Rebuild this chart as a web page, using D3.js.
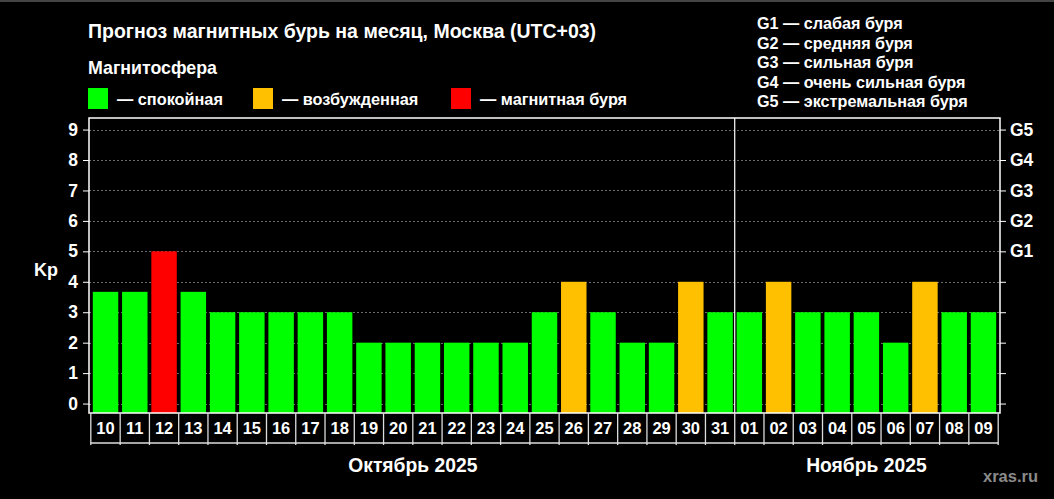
<!DOCTYPE html>
<html><head><meta charset="utf-8">
<script src="https://cdn.jsdelivr.net/npm/d3@7"></script>
<style>body{margin:0;background:#000}svg{display:block;font-family:"Liberation Sans",Arial,sans-serif;font-weight:bold}</style>
</head><body>
<script>
const days = ["10","11","12","13","14","15","16","17","18","19","20","21","22","23","24","25","26","27","28","29","30","31","01","02","03","04","05","06","07","08","09"];
const kp = [3.67,3.67,5,3.67,3,3,3,3,3,2,2,2,2,2,2,3,4,3,2,2,4,3,3,4,3,3,3,2,4,3,3];
const status = ["q","q","s","q","q","q","q","q","q","q","q","q","q","q","q","q","e","q","q","q","e","q","q","e","q","q","q","q","e","q","q"];
const yTicks = [0,1,2,3,4,5,6,7,8,9];
const gLabels = {5:"G1",6:"G2",7:"G3",8:"G4",9:"G5"};
const months = [{name:"Октябрь 2025", from:"10", to:"31"},{name:"Ноябрь 2025", from:"01", to:"09"}];
const legend = [{k:"q", label:"— спокойная"},{k:"e", label:"— возбужденная"},{k:"s", label:"— магнитная буря"}];
const gLegend = ["G1 — слабая буря","G2 — средняя буря","G3 — сильная буря","G4 — очень сильная буря","G5 — экстремальная буря"];
const colors = {q:"#00ff00", e:"#ffc000", s:"#ff0000"};

const W=1054,H=499;
const svg=d3.select("body").append("svg").attr("width",W).attr("height",H);
svg.append("rect").attr("width",W).attr("height",H).attr("fill","#000");
svg.append("rect").attr("width",W).attr("height",2).attr("fill","#444");

const L=89,R=1000,T=118,B=413;
const x=d3.scaleBand().domain(days).range([L,R]).paddingInner(0.13).paddingOuter(0.13);
const y=d3.scaleLinear().domain([-0.31,9.38]).range([B,T]);
const gap=(x.step()-x.bandwidth());

// gridlines
svg.append("g").selectAll("line").data(yTicks).join("line")
  .attr("x1",L).attr("x2",R).attr("y1",d=>Math.round(y(d))+0.5).attr("y2",d=>Math.round(y(d))+0.5)
  .attr("stroke","#6a6a6a").attr("stroke-width",1).attr("stroke-dasharray","2,2");

// bars
svg.append("g").selectAll("rect").data(days).join("rect")
  .attr("x",d=>x(d)).attr("width",x.bandwidth())
  .attr("y",(d,i)=>y(kp[i])).attr("height",(d,i)=>B-y(kp[i]))
  .attr("fill",(d,i)=>colors[status[i]]);

// month separator
const sepX = x("01") - gap/2;
svg.append("line").attr("x1",sepX).attr("x2",sepX).attr("y1",T).attr("y2",B).attr("stroke","#fff").attr("stroke-width",1.2);

// frame
svg.append("rect").attr("x",L).attr("y",T).attr("width",R-L).attr("height",B-T).attr("fill","none").attr("stroke","#fff").attr("stroke-width",1.5);

// left axis
const ly=svg.append("g").attr("transform",`translate(${L},0)`).call(d3.axisLeft(y).tickValues(yTicks).tickSize(6).tickPadding(5).tickFormat(d3.format("d")));
ly.select(".domain").remove();
ly.selectAll("line").attr("stroke","#fff");
ly.selectAll("text").attr("fill","#fff").attr("font-size",17.5).attr("font-family","Liberation Sans, Arial").attr("font-weight","bold");

// right axis
const ry=svg.append("g").attr("transform",`translate(${R},0)`).call(d3.axisRight(y).tickValues(yTicks).tickSize(6).tickPadding(4).tickFormat(d=>gLabels[d]||""));
ry.select(".domain").remove();
ry.selectAll("line").attr("stroke","#fff");
ry.selectAll("text").attr("fill","#fff").attr("font-size",17.5).attr("font-family","Liberation Sans, Arial").attr("font-weight","bold");

svg.append("text").attr("x",34).attr("y",276).attr("fill","#fff").attr("font-size",18).text("Kp");

// day label cells
const cellB=B+30;
const cells=svg.append("g");
const cx0=x(days[0])-2, cx1=x(days[days.length-1])+x.bandwidth()+2;
cells.append("line").attr("x1",cx0).attr("x2",cx1).attr("y1",cellB).attr("y2",cellB).attr("stroke","#ddd").attr("stroke-width",1.5);
const seps=[cx0].concat(days.slice(1).map(d=>x(d)-gap/2)).concat([cx1]);
cells.selectAll("line.sep").data(seps).join("line").attr("class","sep")
  .attr("x1",d=>d).attr("x2",d=>d).attr("y1",B).attr("y2",cellB+2).attr("stroke","#ddd").attr("stroke-width",1.3);
cells.selectAll("text").data(days).join("text")
  .attr("x",d=>x(d)+x.bandwidth()/2).attr("y",B+20.5).attr("text-anchor","middle")
  .attr("fill","#fff").attr("font-size",16.5).text(d=>d);

// month labels
months.forEach(m=>{
  const cx=(x(m.from)+x(m.to)+x.bandwidth())/2;
  svg.append("text").attr("x",cx).attr("y",472).attr("text-anchor","middle").attr("fill","#fff").attr("font-size",19.3).text(m.name);
});

// title & legend
svg.append("text").attr("x",88).attr("y",38).attr("fill","#fff").attr("font-size",19.5).text("Прогноз магнитных бурь на месяц, Москва (UTC+03)");
svg.append("text").attr("x",88).attr("y",74).attr("fill","#fff").attr("font-size",17.8).text("Магнитосфера");
const lx=[88,253,451];
legend.forEach((l,i)=>{
  svg.append("rect").attr("x",lx[i]).attr("y",88).attr("width",20).attr("height",21).attr("fill",colors[l.k]);
  svg.append("text").attr("x",lx[i]+29).attr("y",105).attr("fill","#fff").attr("font-size",16.3).text(l.label);
});
gLegend.forEach((g,i)=>{
  svg.append("text").attr("x",757).attr("y",29+i*19.6).attr("fill","#fff").attr("font-size",16.2).text(g);
});

svg.append("text").attr("x",1038).attr("y",482).attr("text-anchor","end").attr("fill","#8a8a8a").attr("font-size",16.5).text("xras.ru");
</script>
</body></html>
